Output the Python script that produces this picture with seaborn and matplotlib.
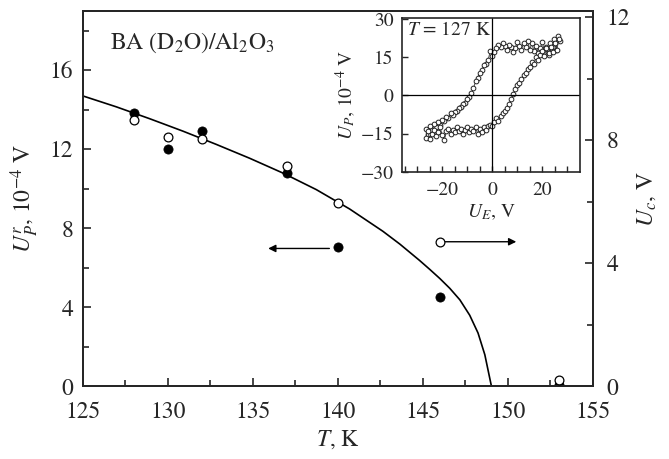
import numpy as np
import pandas as pd
import matplotlib
matplotlib.use("Agg")
import matplotlib.pyplot as plt
import seaborn as sns

# ---------------- data ----------------
T_pts = [128, 130, 132, 137, 140, 146, 153]
Upr_filled = [13.82, 12.0, 12.93, 10.78, 7.04, 4.53, 0.05]   # left axis, 1e-4 V
Uc_open = [8.65, 8.1, 8.05, 7.15, 5.97, 4.7, 0.19]           # right axis, V

T_curve = [125, 126.96, 128.92, 130.88, 132.84, 134.8, 136.76, 138.73, 140.69,
           142.65, 143.65, 144.8, 145.41, 146.0, 146.59, 147.18, 147.76,
           148.25, 148.65, 149.04]
U_curve = [14.7, 14.15, 13.55, 12.92, 12.25, 11.55, 10.8, 9.96, 8.98, 7.85,
           7.2, 6.38, 5.92, 5.46, 4.96, 4.38, 3.6, 2.7, 1.6, 0.0]

E_up = [27.0, 26.2, 25.5, 24.8, 24.0, 23.2, 22.5, 21.6, 20.8, 20.0, 19.1, 18.3,
        17.5, 16.6, 15.8, 15.0, 14.1, 13.3, 12.5, 11.6, 10.8, 10.0, 9.1, 8.3,
        7.5, 6.6, 5.8, 5.0, 4.1, 3.3, 2.5, 1.6, 0.8, 0.0, -0.8, -1.6, -2.5,
        -3.3, -4.1, -5.0, -5.8, -6.6, -7.5, -8.3, -9.1, -10.0, -10.8, -11.6,
        -12.5, -13.3, -14.1, -15.0, -15.8, -16.6, -17.5, -18.3, -19.1, -20.0,
        -20.8, -21.6, -22.5, -23.3, -24.1, -25.0, -25.8, -26.6]
P_up = [21.5, 23.5, 18.0, 22.0, 17.5, 20.5, 16.0, 19.0, 17.0, 21.0, 18.5, 16.5,
        19.5, 17.5, 20.5, 18.0, 21.5, 19.0, 20.5, 18.0, 19.5, 21.0, 18.5, 17.0,
        19.0, 20.0, 18.0, 19.5, 20.5, 19.0, 20.0, 18.5, 17.0, 15.5, 17.5, 14.0,
        12.5, 12.0, 10.0, 9.0, 7.0, 5.5, 3.0, 1.0, -0.5, -1.5, -3.0, -3.5,
        -4.5, -5.0, -6.0, -6.5, -7.5, -7.0, -9.0, -8.5, -10.0, -9.5, -11.5,
        -10.5, -12.5, -11.0, -13.5, -12.0, -15.0, -13.0]

E_down = [-26.6, -25.8, -25.0, -24.1, -23.3, -22.5, -21.6, -20.8, -20.0, -19.1,
          -18.3, -17.5, -16.6, -15.8, -15.0, -14.1, -13.3, -12.5, -11.6, -10.8,
          -10.0, -9.1, -8.3, -7.5, -6.6, -5.8, -5.0, -4.1, -3.3, -2.5, -1.6,
          -0.8, 0.0, 0.8, 1.6, 2.5, 3.3, 4.1, 5.0, 5.8, 6.6, 7.5, 8.3, 9.1, 10.0,
          10.8, 11.6, 12.5, 13.3, 14.1, 15.0, 15.8, 16.6, 17.5, 18.3, 19.1, 20.0,
          20.8, 21.6, 22.5, 23.3, 24.1, 25.0, 25.8, 26.6]
P_down = [-16.5, -14.0, -17.0, -15.0, -13.5, -16.0, -14.5, -12.5, -15.5, -17.5,
          -14.0, -13.0, -15.0, -13.5, -14.5, -12.5, -14.0, -13.0, -15.0, -13.5,
          -12.5, -14.5, -13.0, -14.0, -12.5, -15.0, -13.0, -14.5, -12.5, -13.5,
          -12.0, -11.5, -12.0, -10.5, -9.0, -10.0, -8.0, -7.0, -6.0, -5.0, -3.5,
          -1.5, 0.5, 2.5, 4.0, 5.0, 6.5, 8.0, 9.0, 10.5, 11.0, 13.0, 12.5, 15.0,
          14.0, 16.0, 17.5, 15.5, 18.5, 16.5, 19.0, 17.0, 20.5, 18.0, 22.0]

x_ticks = [125, 130, 135, 140, 145, 150, 155]
left_ticks = [0, 4, 8, 12, 16]
right_ticks = [0, 4, 8, 12]

# ---------------- style ----------------
sns.set_theme(style="ticks")
plt.rcParams["font.family"] = ["STIXGeneral", "DejaVu Serif"]
plt.rcParams["mathtext.fontset"] = "stix"
plt.rcParams["axes.linewidth"] = 1.4
plt.rcParams["xtick.direction"] = "in"
plt.rcParams["ytick.direction"] = "in"

fig = plt.figure(figsize=(6.69, 4.59), dpi=100)
ax = fig.add_axes([0.124, 0.1583, 0.762, 0.8177])
ax2 = ax.twinx()

df_curve = pd.DataFrame({"T": T_curve, "U": U_curve})
sns.lineplot(data=df_curve, x="T", y="U", ax=ax, color="black", lw=1.2,
             sort=False, estimator=None)
df_f = pd.DataFrame({"T": T_pts, "U": Upr_filled})
sns.scatterplot(data=df_f, x="T", y="U", ax=ax, color="black", s=44,
                edgecolor="black", linewidth=0.5, zorder=5)
df_o = pd.DataFrame({"T": T_pts, "U": Uc_open})
sns.scatterplot(data=df_o, x="T", y="U", ax=ax2, facecolor="white", s=40,
                edgecolor="black", linewidth=0.9, zorder=5)

ax.set_xlim(125, 155)
ax.set_ylim(0, 19)
ax2.set_ylim(0, 12.2)
ax.set_xticks(x_ticks)
ax.set_xticks(np.arange(125, 155.1, 2.5), minor=True)
ax.set_yticks(left_ticks)
ax.set_yticks(np.arange(0, 19, 2), minor=True)
ax2.set_yticks(right_ticks)
ax2.set_yticks(np.arange(0, 12.3, 2), minor=True)
for a in (ax, ax2):
    a.tick_params(which="major", length=6, width=1.2, labelsize=17)
    a.tick_params(which="minor", length=4.5, width=1.2)
ax.tick_params(axis="x", pad=11)
ax.tick_params(axis="y", pad=7)
ax2.tick_params(axis="y", pad=10)
ax.set_xlabel("$T$, K", fontsize=17, labelpad=4)
ax.set_ylabel("$U_P^r$, 10$^{-4}$ V", fontsize=17, labelpad=6)
ax2.set_ylabel("$U_c$, V", fontsize=17, labelpad=4)

ax.text(0.053, 0.915, "BA (D$_2$O)/Al$_2$O$_3$", transform=ax.transAxes,
        fontsize=17, ha="left", va="center")

# arrows
ax.annotate("", xy=(135.9, 6.98), xytext=(139.5, 6.98),
            arrowprops=dict(arrowstyle="-|>", color="black", lw=1.0,
                            mutation_scale=11, shrinkA=0, shrinkB=0))
ax2.annotate("", xy=(150.5, 4.7), xytext=(146.3, 4.7),
             arrowprops=dict(arrowstyle="-|>", color="black", lw=1.0,
                             mutation_scale=11, shrinkA=0, shrinkB=0))

# ---------------- inset ----------------
ins = fig.add_axes([0.6009, 0.6253, 0.266, 0.3355])
ins.set_facecolor("white")
df_up = pd.DataFrame({"E": E_up, "P": P_up})
df_dn = pd.DataFrame({"E": E_down, "P": P_down})
for d in (df_up, df_dn):
    sns.lineplot(data=d, x="E", y="P", ax=ins, sort=False, estimator=None,
                 color="#333333", lw=0.6, marker="o", markersize=3.4,
                 markerfacecolor="white", markeredgecolor="#222222",
                 markeredgewidth=0.7)
ins.axhline(0, color="black", lw=0.9)
ins.axvline(0, color="black", lw=0.9)
ins.set_xlim(-36, 35)
ins.set_ylim(-30, 30.4)
ins.set_xticks([-20, 0, 20])
ins.set_xticks(np.arange(-35, 35, 5), minor=True)
ins.set_yticks([-30, -15, 0, 15, 30])
ins.tick_params(which="major", length=4, width=1.0, labelsize=14)
ins.tick_params(which="minor", length=4, width=1.0)
ins.tick_params(axis="x", pad=7)
ins.tick_params(axis="y", pad=6)
ins.set_xlabel("$U_E$, V", fontsize=14, labelpad=3)
ins.set_ylabel("$U_P$, 10$^{-4}$ V", fontsize=14, labelpad=2)
ins.text(0.03, 0.92, "$T$ = 127 K", transform=ins.transAxes, fontsize=14,
         ha="left", va="center")
for s in ins.spines.values():
    s.set_linewidth(1.2)

fig.savefig("out.png", dpi=100)
